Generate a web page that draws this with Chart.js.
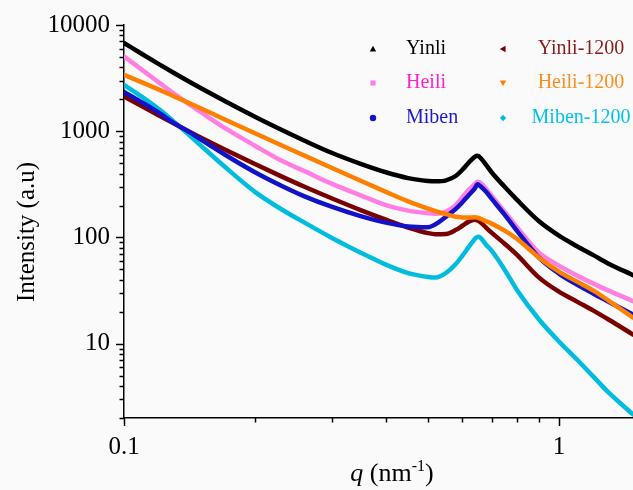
<!DOCTYPE html>
<html>
<head>
<meta charset="utf-8">
<script src="https://cdn.jsdelivr.net/npm/chart.js@4.4.0/dist/chart.umd.min.js"></script>
<style>
html,body{margin:0;padding:0;background:#fafafa;}
#wrap{width:633px;height:490px;position:relative;}
</style>
</head>
<body>
<div id="wrap"><canvas id="c" width="633" height="490"></canvas></div>
<script>
// ---- data (q in nm^-1, intensity in a.u.) ----
const q         = [0.1, 0.11, 0.12, 0.13, 0.14, 0.15, 0.17, 0.2, 0.23, 0.26, 0.3, 0.35, 0.4, 0.45, 0.5, 0.52, 0.55, 0.58, 0.6, 0.62, 0.64, 0.65, 0.66, 0.68, 0.7, 0.75, 0.8, 0.9, 1.0, 1.1, 1.2, 1.3, 1.48];
const yinli     = [6770, 5329, 4309, 3555, 2989, 2553, 1935, 1369, 1031, 814, 627, 493, 411, 362, 341, 338, 345, 381, 434, 505, 575, 587, 562, 483, 411, 300, 227, 142, 104, 82.8, 68.2, 56.7, 44.2];
const heili     = [5057, 3784, 2900, 2271, 1834, 1519, 1081, 731, 530, 421, 321, 249, 202, 179, 169, 167, 175, 203, 239, 281, 317, 335, 327, 288, 247, 175, 126, 71.9, 54.3, 43.8, 36.8, 31.6, 25.2];
const miben     = [2346, 1869, 1505, 1200, 1009, 839, 607, 411, 307, 244, 195, 159, 138, 127, 125, 133, 157, 187, 215, 250, 288, 317, 303, 269, 232, 164, 116, 64.6, 45.7, 36, 29.6, 24.9, 18.8];
const yinli1200 = [2128, 1718, 1417, 1186, 1011, 873, 676, 491, 376, 300, 234, 181, 147, 124, 110, 107.5, 108, 118, 129, 141, 147, 145, 139, 124, 111, 87.4, 68.9, 41.9, 30.9, 24.9, 20.5, 16.9, 12.2];
const heili1200 = [3389, 2881, 2476, 2142, 1869, 1645, 1299, 958, 739, 590, 454, 342, 269, 219, 187, 177, 166, 157, 154, 154, 155, 154, 150, 142, 135, 116, 97.4, 64.6, 47.7, 38.4, 31.6, 25.5, 17.6];
const miben1200 = [2730, 2105, 1624, 1239, 949, 737, 468, 269, 184.5, 138, 99.6, 72, 55.5, 46.2, 42.5, 42, 46.5, 56.7, 67.5, 81, 96.4, 101.7, 99.6, 85.5, 75.1, 49.8, 32.3, 16.9, 10.5, 7.1, 4.9, 3.48, 2.16];

const seriesLabels = ['Yinli', 'Heili', 'Miben', 'Yinli-1200', 'Heili-1200', 'Miben-1200'];
const xTickValues = [0.1, 1];
const xTickLabels = ['0.1', '1'];
const xMinorTicks = [0.2, 0.3, 0.4, 0.5, 0.6, 0.7, 0.8, 0.9];
const yTickValues = [10, 100, 1000, 10000];
const yTickLabels = ['10', '100', '1000', '10000'];
const yMinorTicks = [2,3,4,5,6,7,8,9,20,30,40,50,60,70,80,90,200,300,400,500,600,700,800,900,2000,3000,4000,5000,6000,7000,8000,9000];

// ---- styles ----
const lineColors = ['#000000', '#ff7fe2', '#1212c8', '#7a0000', '#ff8000', '#00bde0'];
const textColors = ['#000000', '#ff1fcf', '#1a1acd', '#8b1a1a', '#ff8c1a', '#00c3ea'];
const markers    = ['triUp', 'square', 'circle', 'triLeft', 'triDown', 'diamond'];
const drawOrder  = [1, 5, 3, 4, 2, 6];
const seriesData = [yinli, heili, miben, yinli1200, heili1200, miben1200];
const FONT = "'Liberation Serif', 'Times New Roman', serif";

const datasets = seriesData.map((arr, i) => ({
  label: seriesLabels[i],
  data: q.map((x, k) => ({x: x, y: arr[k]})),
  borderColor: lineColors[i],
  backgroundColor: lineColors[i],
  borderWidth: 4.5,
  pointRadius: 0,
  fill: false,
  cubicInterpolationMode: 'monotone',
  order: drawOrder[i]
}));

function drawMarker(ctx, kind, x, y, r, color) {
  ctx.fillStyle = color;
  ctx.beginPath();
  if (kind === 'triUp') { ctx.moveTo(x, y - r); ctx.lineTo(x + r, y + r * 0.8); ctx.lineTo(x - r, y + r * 0.8); }
  else if (kind === 'triDown') { ctx.moveTo(x, y + r); ctx.lineTo(x + r, y - r * 0.8); ctx.lineTo(x - r, y - r * 0.8); }
  else if (kind === 'triLeft') { ctx.moveTo(x - r, y); ctx.lineTo(x + r * 0.8, y - r); ctx.lineTo(x + r * 0.8, y + r); }
  else if (kind === 'square') { ctx.rect(x - r * 0.8, y - r * 0.8, r * 1.6, r * 1.6); }
  else if (kind === 'diamond') { ctx.moveTo(x, y - r); ctx.lineTo(x + r, y); ctx.lineTo(x, y + r); ctx.lineTo(x - r, y); }
  else { ctx.arc(x, y, r, 0, Math.PI * 2); }
  ctx.closePath();
  ctx.fill();
}

const decor = {
  id: 'decor',
  afterDraw(chart) {
    const ctx = chart.ctx;
    const xs = chart.scales.x, ys = chart.scales.y, area = chart.chartArea;
    ctx.save();
    // tick marks
    ctx.strokeStyle = '#000';
    ctx.lineWidth = 1.5;
    const tick = (v, len, axis) => {
      ctx.beginPath();
      if (axis === 'x') {
        const p = Math.round(xs.getPixelForValue(v)) + 0.5;
        ctx.moveTo(p, area.bottom); ctx.lineTo(p, area.bottom + len);
      } else {
        const p = Math.round(ys.getPixelForValue(v)) + 0.5;
        ctx.moveTo(area.left, p); ctx.lineTo(area.left - len, p);
      }
      ctx.stroke();
    };
    xTickValues.forEach(v => tick(v, 8, 'x'));
    xMinorTicks.forEach(v => tick(v, 4.5, 'x'));
    yTickValues.forEach(v => tick(v, 8, 'y'));
    yMinorTicks.forEach(v => { if (v >= ys.min) tick(v, 4.5, 'y'); });

    // y-axis title
    ctx.fillStyle = '#000';
    ctx.font = '25px ' + FONT;
    ctx.textAlign = 'center';
    ctx.textBaseline = 'middle';
    ctx.save();
    ctx.translate(27, 232);
    ctx.rotate(-Math.PI / 2);
    ctx.fillText('Intensity (a.u)', 0, 0);
    ctx.restore();

    // x-axis title: q (nm^-1)
    const base = 481;
    const parts = [
      {t: 'q', f: 'italic 26px ' + FONT, dy: 0},
      {t: ' (nm', f: '26px ' + FONT, dy: 0},
      {t: '-1', f: '16px ' + FONT, dy: -10},
      {t: ')', f: '26px ' + FONT, dy: 0}
    ];
    let total = 0;
    parts.forEach(p => { ctx.font = p.f; p.w = ctx.measureText(p.t).width; total += p.w; });
    let cx = 392 - total / 2;
    ctx.textAlign = 'left';
    ctx.textBaseline = 'alphabetic';
    parts.forEach(p => { ctx.font = p.f; ctx.fillText(p.t, cx, base + p.dy); cx += p.w; });

    // legend (2 columns x 3 rows)
    const rows = [49, 83, 118];
    ctx.font = '20px ' + FONT;
    ctx.textBaseline = 'middle';
    seriesLabels.forEach((lab, i) => {
      const col = i < 3 ? 0 : 1;
      const row = i % 3;
      const y = rows[row];
      const mx = col === 0 ? 373 : 503;
      drawMarker(ctx, markers[i], mx, y, 3.2, lineColors[i]);
      ctx.fillStyle = textColors[i];
      if (col === 0) { ctx.textAlign = 'left'; ctx.fillText(lab, 406, y); }
      else { ctx.textAlign = 'center'; ctx.fillText(lab, 581, y); }
    });
    ctx.restore();
  }
};

const labelFor = (vals, labs) => (v) => {
  for (let i = 0; i < vals.length; i++) if (Math.abs(v - vals[i]) < 1e-9 * vals[i]) return labs[i];
  return '';
};

new Chart(document.getElementById('c'), {
  type: 'line',
  data: {datasets: datasets},
  plugins: [decor],
  options: {
    responsive: false,
    animation: false,
    devicePixelRatio: 1,
    layout: {padding: {top: 25, right: 0, bottom: 0, left: 0}},
    plugins: {legend: {display: false}, tooltip: {enabled: false}},
    elements: {line: {borderJoinStyle: 'round', borderCapStyle: 'round'}},
    scales: {
      x: {
        type: 'logarithmic',
        min: 0.1,
        max: 1.48,
        afterBuildTicks: (s) => { s.ticks = xTickValues.concat(xMinorTicks).sort((a, b) => a - b).map(v => ({value: v})); },
        afterFit: (s) => { s.height = 72; },
        grid: {display: true, drawOnChartArea: false, drawTicks: true, tickLength: 8, tickColor: 'rgba(0,0,0,0)'},
        border: {display: true, color: '#000', width: 1.5},
        ticks: {
          autoSkip: false, maxRotation: 0, minRotation: 0, padding: 6, color: '#000',
          font: {family: FONT, size: 25},
          callback: labelFor(xTickValues, xTickLabels)
        },
        title: {display: false}
      },
      y: {
        type: 'logarithmic',
        min: 2,
        max: 10000,
        afterBuildTicks: (s) => { s.ticks = yTickValues.concat(yMinorTicks).sort((a, b) => a - b).map(v => ({value: v})); },
        afterFit: (s) => { s.width = 124; },
        grid: {display: true, drawOnChartArea: false, drawTicks: true, tickLength: 8, tickColor: 'rgba(0,0,0,0)'},
        border: {display: true, color: '#000', width: 1.5},
        ticks: {
          autoSkip: false, padding: 6, color: '#000',
          font: {family: FONT, size: 25},
          callback: labelFor(yTickValues, yTickLabels)
        },
        title: {display: false}
      }
    }
  }
});
</script>
</body>
</html>
